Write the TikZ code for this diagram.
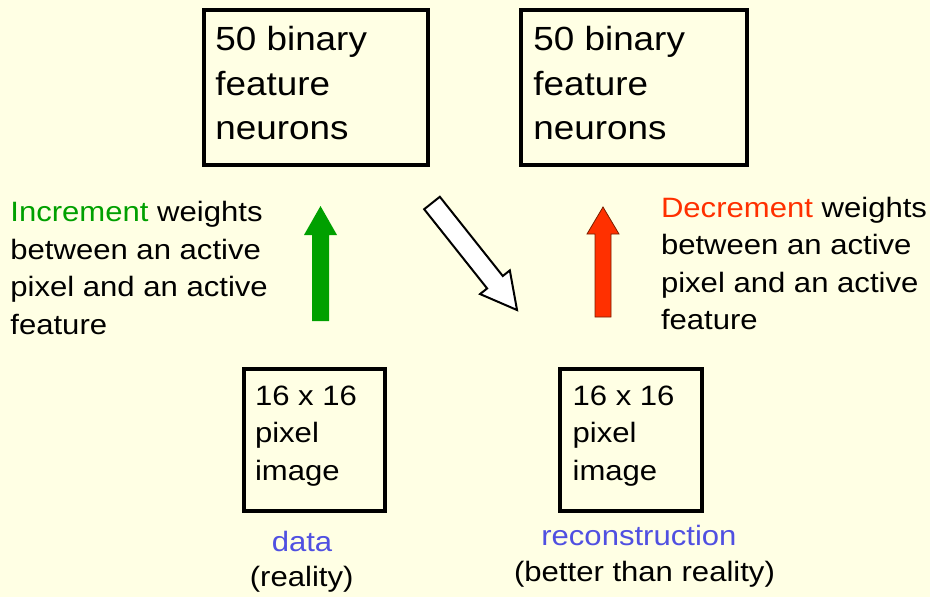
\documentclass[tikz,border=0pt]{standalone}
\usepackage{fontspec}
\setmainfont{Liberation Sans}
\newfontfamily\smallf[FakeStretch=1.11]{Liberation Sans}
\newfontfamily\bigf[FakeStretch=1.10]{Liberation Sans}
\definecolor{bg}{RGB}{255,255,228}
\definecolor{incgreen}{RGB}{0,160,0}
\definecolor{decred}{RGB}{255,48,0}
\definecolor{redline}{RGB}{120,30,0}
\definecolor{lblblue}{RGB}{80,80,225}
\begin{document}
\begin{tikzpicture}[x=1pt,y=-1pt,
  box/.style={draw=black, line width=4pt, inner sep=0pt, outer sep=0pt},
  txt/.style={inner sep=0pt, outer sep=0pt, align=left, anchor=base west},
  bigtxt/.style={txt, font=\bigf\fontsize{33.5}{44.5}\selectfont},
  smalltxt/.style={txt, font=\smallf\fontsize{28}{37.5}\selectfont},
  lbl/.style={inner sep=0pt, outer sep=0pt, anchor=base, font=\smallf\fontsize{28}{37.5}\selectfont},
  blockwhite/.style={draw=black, line width=2pt, fill=white, line join=miter},
  blockgreen/.style={fill=incgreen},
  blockred/.style={fill=decred, draw=redline, line width=0.8pt}
]
\fill[bg] (0,0) rectangle (930,597);
\useasboundingbox (0,0) rectangle (930,597);

% boxes
\node[box, minimum width=224.5pt, minimum height=154.5pt] (featL) at (316,87.5) {};
\node[box, minimum width=226pt, minimum height=155pt] (featR) at (634.3,87) {};
\node[box, minimum width=141.3pt, minimum height=141.6pt] (pixL) at (314.2,440) {};
\node[box, minimum width=141.8pt, minimum height=141.6pt] (pixR) at (631.1,440) {};

% box texts (anchor = baseline of the last line)
\node[bigtxt] (featLt) at (215.4,139.5) {50 binary\\feature\\neurons};
\node[bigtxt] (featRt) at (533.4,139.5) {50 binary\\feature\\neurons};
\node[smalltxt] (pixLt) at (255,480.1) {16 x 16\\pixel\\image};
\node[smalltxt] (pixRt) at (572.6,480.1) {16 x 16\\pixel\\image};

% side texts
\node[smalltxt] (inc) at (10.4,334.2) {\textcolor{incgreen}{Increment} weights\\between an active\\pixel and an active\\feature};
\node[smalltxt] (dec) at (661,329.8) {\textcolor{decred}{Decrement} weights\\between an active\\pixel and an active\\feature};

% labels
\node[lbl, text=lblblue] (data) at (302,551.7) {data};
\node[lbl] (real) at (301.7,586.7) {(reality)};
\node[lbl, text=lblblue] (recon) at (638.9,545) {reconstruction};
\node[lbl] (better) at (644.5,581.7) {(better than reality)};

% green up arrow
\fill[blockgreen] (312,321) -- (312,235) -- (304,235) -- (320.5,206) -- (337,235) -- (329,235) -- (329,321) -- cycle;
% red up arrow
\filldraw[blockred] (595,317) -- (595,234) -- (587,234) -- (603,207) -- (619,234) -- (611,234) -- (611,317) -- cycle;
% white diagonal arrow
\begin{scope}[shift={(432,203)}, rotate=-51.53]
  \coordinate (ws) at (0,0);
  \draw[blockwhite] (0,10) -- (101.2,10) -- (101.2,19) -- (136.7,0) -- (101.2,-19) -- (101.2,-10) -- (0,-10) -- cycle;
\end{scope}
\end{tikzpicture}
\end{document}
